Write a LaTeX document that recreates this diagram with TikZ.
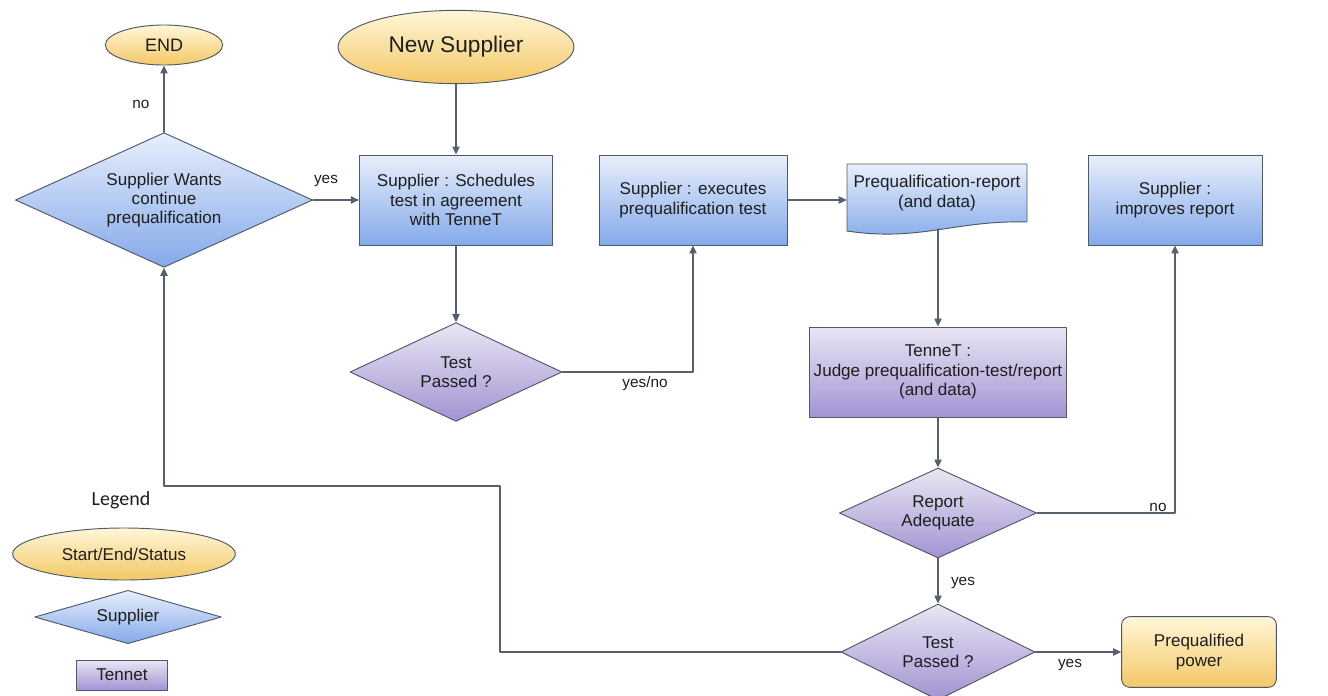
\documentclass[tikz,border=0pt]{standalone}
\usepackage{fontspec}
\setmainfont{Liberation Sans}
\newfontfamily\legendfont{Carlito}
\usepackage{tikz}
\usetikzlibrary{arrows.meta,shapes.geometric}

\definecolor{lineGray}{HTML}{56606E}
\definecolor{edgeGray}{HTML}{4F5866}
\definecolor{txtDark}{HTML}{1E1E1E}
\definecolor{yelTop}{HTML}{FFF6D8}
\definecolor{yelBot}{HTML}{F3C866}
\definecolor{bluTop}{HTML}{E8EFFB}
\definecolor{bluBot}{HTML}{84A9EA}
\definecolor{purTop}{HTML}{EAE6F4}
\definecolor{purBot}{HTML}{A293D2}

\begin{document}
\begin{tikzpicture}[
		x=0.75pt,
		y=-0.75pt,
		line cap=round,
		line join=round,
		>={Triangle[length=6pt,width=5.5pt]},
		flow/.style={->, draw=lineGray, line width=0.9pt},
		lbl/.style={font=\fontsize{11.5}{13}\selectfont, text=txtDark, inner sep=1pt},
		boxtext/.style={font=\fontsize{12.8}{14.5}\selectfont, text=txtDark, align=center, inner sep=0pt},
		startend/.style={boxtext, ellipse, draw=edgeGray, line width=0.7pt, top color=yelTop, bottom color=yelBot},
		supbox/.style={boxtext, rectangle, draw=edgeGray, line width=0.7pt, top color=bluTop, bottom color=bluBot},
		tenbox/.style={boxtext, rectangle, draw=edgeGray, line width=0.7pt, top color=purTop, bottom color=purBot},
		supdec/.style={boxtext, diamond, aspect=2.2, draw=edgeGray, line width=0.7pt, top color=bluTop, bottom color=bluBot},
		tendec/.style={boxtext, diamond, aspect=2.2, draw=edgeGray, line width=0.7pt, top color=purTop, bottom color=purBot}
		]
		\useasboundingbox (0,0) rectangle (1328,696);
		
		%------------------------------------------------------------------
		% Start / end
		%------------------------------------------------------------------
		\node[startend, minimum width=88pt, minimum height=30pt,
		font=\fontsize{13.5}{15}\selectfont] (end) at (164,45) {END};
		\node[startend, minimum width=177pt, minimum height=55pt,
		font=\fontsize{17}{19}\selectfont] (new) at (456,47) {New Supplier};
		
		%------------------------------------------------------------------
		% Supplier steps
		%------------------------------------------------------------------
		\node[supdec, minimum width=223pt, minimum height=101pt] (want) at (164,200)
		{Supplier Wants\\continue\\prequalification};
		\node[supbox, minimum width=145pt, minimum height=67.5pt] (sched) at (456,200)
		{Supplier : Schedules\\test in agreement\\with TenneT};
		\node[supbox, minimum width=141pt, minimum height=67.5pt] (exec) at (693,200)
		{Supplier : executes\\prequalification test};
		\node[supbox, minimum width=130.5pt, minimum height=67.5pt] (impr) at (1175,200)
		{Supplier :\\improves report};
		
		% Report document (wavy bottom)
		\shade[top color=bluTop, bottom color=bluBot, draw=edgeGray, line width=0.7pt]
		(847,164) -- (1027,164) -- (1027,222)
		.. controls (955,220) and (920,242) .. (847,231) -- cycle;
		\node[boxtext, minimum width=135pt, minimum height=40pt] (rep) at (937,193)
		{Prequalification-report\\(and data)};
		\coordinate (repOut) at (938,229);
		
		%------------------------------------------------------------------
		% TenneT steps
		%------------------------------------------------------------------
		\node[tendec, minimum width=159pt, minimum height=74pt] (tp1) at (456,372)
		{Test\\Passed ?};
		\node[tenbox, minimum width=193pt, minimum height=67.5pt] (judge) at (938,372)
		{TenneT :\\Judge prequalification-test/report\\(and data)};
		\node[tendec, minimum width=148pt, minimum height=67.5pt] (adeq) at (938,513)
		{Report\\Adequate};
		\node[tendec, minimum width=145.5pt, minimum height=72pt] (tp2) at (938,652)
		{Test\\Passed ?};
		\node[startend, rectangle, rounded corners=6pt, minimum width=116pt,
		minimum height=53pt] (pq) at (1199,652) {Prequalified\\power};
		
		%------------------------------------------------------------------
		% Connectors
		%------------------------------------------------------------------
		\draw[flow] (new) -- (sched);
		\draw[flow] (want.east) -- (sched.west);
		\draw[flow] (want.north) -- (end.south);
		\draw[flow] (sched) -- (tp1);
		\draw[flow] (tp1.east) -| (exec.south);
		\draw[flow] (exec.east) -- (exec.east -| rep.west);
		\draw[flow] (repOut) -- (judge.north);
		\draw[flow] (judge) -- (adeq);
		\draw[flow] (adeq.east) -| (impr.south);
		\draw[flow] (adeq) -- (tp2);
		\draw[flow] (tp2.east) -- (pq.west);
		
		% Loop back to the first decision
		\coordinate (loopA) at (500,486);
		\draw[flow] (tp2.west) -| (loopA) -| (want.south);
		
		%------------------------------------------------------------------
		% Connector labels
		%------------------------------------------------------------------
		\node[lbl] (noEnd)  at (141,104) {no};
		\node[lbl] (yesW)   at (326,181) {yes};
		\node[lbl] (yesNo)  at (645,384) {yes/no};
		\node[lbl] (noAdq)  at (1158,507) {no};
		\node[lbl] (yesAdq) at (963,583) {yes};
		\node[lbl] (yesTp)  at (1070,665) {yes};
		
		%------------------------------------------------------------------
		% Legend
		%------------------------------------------------------------------
		\node[font=\legendfont\fontsize{15}{17}\selectfont, text=txtDark] (legend) at (121,500) {Legend};
		\node[startend, minimum width=167pt, minimum height=39pt] (lStart) at (124,554) {Start/End/Status};
		\node[supdec, aspect=3.5, minimum width=140pt, minimum height=40pt] (lSup) at (128,617) {Supplier};
		\node[tenbox, minimum width=68pt, minimum height=22.5pt] (lTen) at (122,675) {Tennet};
		
	\end{tikzpicture}
\end{document}
